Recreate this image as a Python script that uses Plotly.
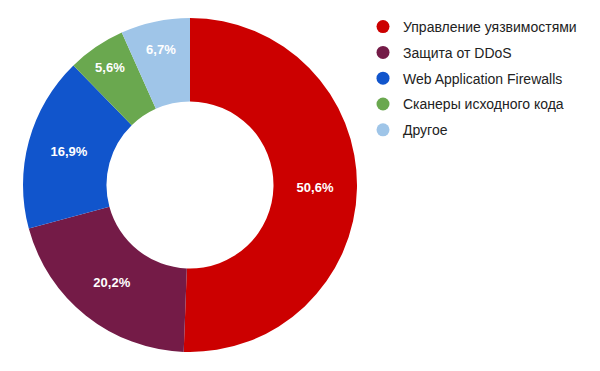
import plotly.graph_objects as go

labels = ["Управление уязвимостями", "Защита от DDoS", "Web Application Firewalls",
          "Сканеры исходного кода", "Другое"]
values = [50.6, 20.2, 16.9, 5.6, 6.7]
colors = ["#CC0000", "#741B47", "#1155CC", "#6AA84F", "#9FC5E8"]

W, H = 600, 371
cx, cy, r = 190, 185, 167

fig = go.Figure()
fig.add_trace(go.Pie(
    labels=labels, values=values, sort=False, direction="clockwise", rotation=0,
    hole=0.5, marker=dict(colors=colors, line=dict(width=0)),
    texttemplate="%{value:.1f}%", textposition="inside",
    insidetextorientation="horizontal",
    textfont=dict(family="Liberation Sans, Arial", size=13, color="white", weight="bold"),
    showlegend=False, hoverinfo="label+percent",
    domain=dict(x=[(cx - r) / W, (cx + r) / W], y=[(H - cy - r) / H, (H - cy + r) / H]),
))
for i, (lab, col) in enumerate(zip(labels, colors)):
    fig.add_trace(go.Scatter(
        x=[None], y=[None], mode="markers", name=lab, legendgroup=str(i),
        marker=dict(color=col, size=13, symbol="circle"), showlegend=True,
    ))

fig.update_layout(
    width=W, height=H, margin=dict(l=0, r=0, t=0, b=0),
    paper_bgcolor="white", plot_bgcolor="white",
    separators=", ",
    xaxis=dict(visible=False), yaxis=dict(visible=False),
    legend=dict(x=(363) / W, xanchor="left", y=1 - 11 / H, yanchor="top",
                font=dict(family="Liberation Sans, Arial", size=14, color="#222222"),
                tracegroupgap=4.6, bgcolor="rgba(0,0,0,0)", itemclick=False),
)
fig.write_html("out.html")
